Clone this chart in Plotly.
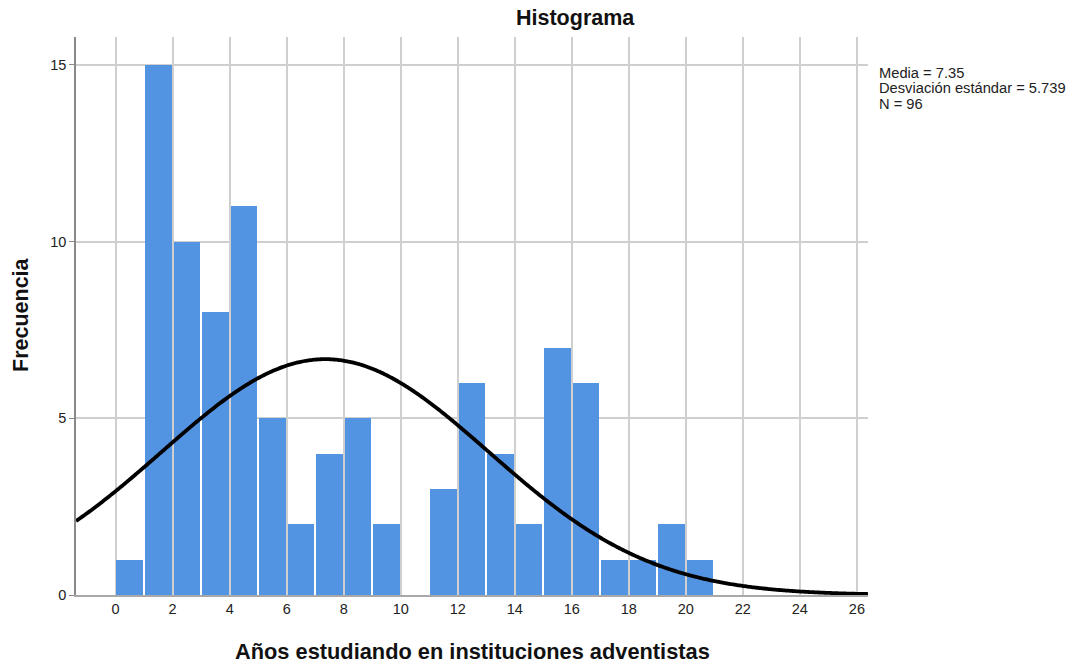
import numpy as np
import plotly.graph_objects as go

# Data (bins of width 1 starting at 0)
bin_starts = list(range(0, 21))
counts = [1, 15, 10, 8, 11, 5, 2, 4, 5, 2, 0, 3, 6, 4, 2, 7, 6, 1, 1, 2, 1]
mean_val = 7.35
sd_val = 5.739
n_val = 96
x_ticks = list(range(0, 27, 2))
y_ticks = [0, 5, 10, 15]

x_range = [-1.39, 26.39]
y_range = [0, 15.79]

centers = [b + 0.5 for b in bin_starts]

# Fitted normal curve (from the stated mean, sd, N; bin width 1)
xc = np.linspace(x_range[0], x_range[1], 600)
yc = n_val * 1.0 / (sd_val * np.sqrt(2 * np.pi)) * np.exp(-0.5 * ((xc - mean_val) / sd_val) ** 2)

font_family = "Liberation Sans, Arial, sans-serif"

W, H = 1075, 664
ML, MR, MT, MB = 76, 207, 37, 69

fig = go.Figure()
fig.add_trace(go.Bar(
    x=centers, y=counts, width=0.94,
    marker=dict(color="#5394e2", line=dict(width=0)),
    hoverinfo="x+y", showlegend=False,
))
fig.add_trace(go.Scatter(
    x=xc, y=yc, mode="lines",
    line=dict(color="black", width=3.8, simplify=False),
    showlegend=False, hoverinfo="skip",
))

fig.update_layout(
    width=W, height=H,
    margin=dict(l=ML, r=MR, t=MT, b=MB),
    paper_bgcolor="white", plot_bgcolor="white",
    font=dict(family=font_family, size=14, color="#222"),
    bargap=0,
)

pw = W - ML - MR
ph = H - MT - MB
def px_x(px):
    return (px - ML) / pw
def px_y(py):
    return (H - MB - py) / ph

fig.add_annotation(text="<b>Histograma</b>", x=px_x(575), y=px_y(18), xref="paper", yref="paper",
                   showarrow=False, font=dict(size=21.5, color="#111"), xanchor="center", yanchor="middle")
fig.add_annotation(text="<b>Años estudiando en instituciones adventistas</b>", x=px_x(472), y=px_y(651),
                   xref="paper", yref="paper", showarrow=False,
                   font=dict(size=21.8, color="#111"), xanchor="center", yanchor="middle")
fig.add_annotation(text="<b>Frecuencia</b>", x=px_x(21), y=px_y(315), xref="paper", yref="paper",
                   showarrow=False, textangle=-90,
                   font=dict(size=21.5, color="#111"), xanchor="center", yanchor="middle")

stats_lines = [f"Media = {mean_val}", f"Desviación estándar = {sd_val}", f"N = {n_val}"]
for i, line in enumerate(stats_lines):
    fig.add_annotation(
        text=line, x=px_x(877), y=px_y(73 + 15.3 * i), xref="paper", yref="paper",
        showarrow=False, align="left", xanchor="left", yanchor="middle",
        font=dict(size=14.7, color="#222"),
    )

fig.update_xaxes(
    range=x_range, tickvals=x_ticks, ticktext=[str(t) for t in x_ticks],
    showgrid=True, gridcolor="#cfcfcf", gridwidth=1.5,
    showline=True, linecolor="#a8a8a8", linewidth=1.5,
    ticks="", zeroline=False, tickfont=dict(size=14.5, color="#222"),
    fixedrange=True,
)
fig.update_yaxes(
    range=y_range, tickvals=y_ticks, ticktext=[str(t) for t in y_ticks],
    showgrid=True, gridcolor="#cfcfcf", gridwidth=1.5,
    showline=True, linecolor="#888888", linewidth=1.5,
    ticks="outside", ticklen=5, tickcolor="#888888",
    zeroline=False, tickfont=dict(size=14.5, color="#222"),
    fixedrange=True,
)

fig.write_html(
    "out.html",
    config={"displayModeBar": False},
    post_script="document.body.style.margin='0';document.body.style.padding='0';document.body.style.overflow='hidden';",
)
